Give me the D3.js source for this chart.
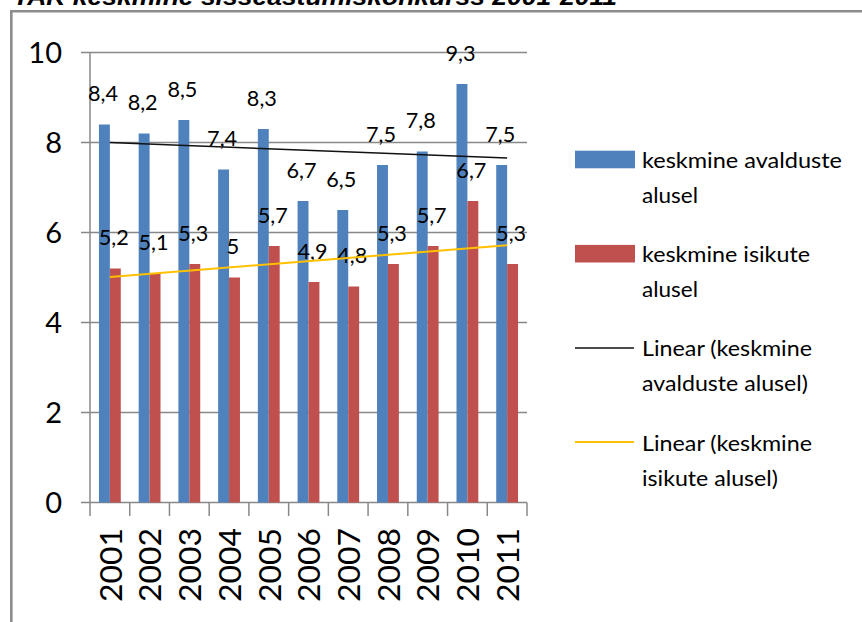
<!DOCTYPE html>
<html>
<head>
<meta charset="utf-8">
<script src="https://cdn.jsdelivr.net/npm/d3@7"></script>
<style>
  body { margin: 0; background: #fff; }
  svg { display: block; }
  text { font-family: Lato, "Noto Sans", sans-serif; }
</style>
</head>
<body>
<div id="chart"></div>
<script>
const years = ["2001", "2002", "2003", "2004", "2005", "2006", "2007", "2008", "2009", "2010", "2011"];
const avaldused = [8.4, 8.2, 8.5, 7.4, 8.3, 6.7, 6.5, 7.5, 7.8, 9.3, 7.5];
const isikud = [5.2, 5.1, 5.3, 5.0, 5.7, 4.9, 4.8, 5.3, 5.7, 6.7, 5.3];
const yTicks = [0, 2, 4, 6, 8, 10];
const seriesNames = ["keskmine avalduste alusel", "keskmine isikute alusel"];
const title = "TAK keskmine sisseastumiskonkurss 2001-2011";

const width = 862, height = 622;
const blue = "#4F81BD", red = "#C0504D", orange = "#FFC000";

const svg = d3.select("#chart").append("svg")
    .attr("width", width)
    .attr("height", height);

// title, cut off at the top like in the source picture
svg.append("text")
    .attr("x", 13)
    .attr("y", 4.5)
    .attr("textLength", 604)
    .attr("lengthAdjust", "spacingAndGlyphs")
    .style("font-family", "'Liberation Sans', Arial, sans-serif")
    .style("font-weight", "bold")
    .style("font-style", "italic")
    .style("font-size", "24px")
    .text(title);

// frame
svg.append("path")
    .attr("d", "M11.3,622 V11.3 H862")
    .attr("fill", "none")
    .attr("stroke", "#8c8c8c")
    .attr("stroke-width", 2.6);

const x = d3.scaleBand().domain(years).range([90, 527]);
const x1 = d3.scaleBand().domain(seriesNames).range([0, x.bandwidth()]).paddingOuter(0.82);
const y = d3.scaleLinear().domain([0, 10]).range([502.5, 52.5]);

// gridlines
svg.append("g")
    .selectAll("line")
    .data(yTicks)
    .enter().append("line")
    .attr("x1", 81)
    .attr("x2", 527)
    .attr("y1", d => y(d))
    .attr("y2", d => y(d))
    .attr("stroke", "#888")
    .attr("stroke-width", 1.5);

// vertical axis line
svg.append("line")
    .attr("x1", 90).attr("x2", 90)
    .attr("y1", y(10)).attr("y2", y(0))
    .attr("stroke", "#888")
    .attr("stroke-width", 1.5);

// category tick marks
const bounds = years.map(d => x(d)).concat([x.range()[1]]);
svg.append("g")
    .selectAll("line")
    .data(bounds)
    .enter().append("line")
    .attr("x1", d => d).attr("x2", d => d)
    .attr("y1", y(0)).attr("y2", y(0) + 13.5)
    .attr("stroke", "#888")
    .attr("stroke-width", 1.5);

// y tick labels
svg.append("g")
    .selectAll("text")
    .data(yTicks)
    .enter().append("text")
    .attr("x", 62)
    .attr("y", d => y(d))
    .attr("dy", "0.36em")
    .attr("text-anchor", "end")
    .style("font-size", "29px")
    .text(d => d);

// year labels, rotated
svg.append("g")
    .selectAll("text")
    .data(years)
    .enter().append("text")
    .attr("transform", d => `translate(${x(d) + x.bandwidth() / 2 + 1},528) rotate(-90)`)
    .attr("dy", "0.36em")
    .attr("text-anchor", "end")
    .attr("textLength", 74)
    .attr("lengthAdjust", "spacingAndGlyphs")
    .style("font-size", "30px")
    .text(d => d);

// bars
const rows = years.map((yr, i) => ({ year: yr, values: [avaldused[i], isikud[i]] }));
const colors = [blue, red];

const groups = svg.append("g")
    .selectAll("g")
    .data(rows)
    .enter().append("g")
    .attr("transform", d => `translate(${x(d.year)},0)`);

groups.selectAll("rect")
    .data(d => d.values.map((v, k) => ({ v, k })))
    .enter().append("rect")
    .attr("x", d => x1(seriesNames[d.k]))
    .attr("width", x1.bandwidth())
    .attr("y", d => y(d.v))
    .attr("height", d => y(0) - y(d.v))
    .attr("fill", d => colors[d.k]);

// linear trend lines (least squares, like Excel)
function trend(values) {
    const n = values.length;
    const xs = values.map((_, i) => i + 1);
    const mx = d3.mean(xs), my = d3.mean(values);
    const slope = d3.sum(xs, (xi, i) => (xi - mx) * (values[i] - my)) / d3.sum(xs, xi => (xi - mx) ** 2);
    return [1, n].map(xi => ({ i: xi - 1, v: my + slope * (xi - mx) }));
}

const line = d3.line()
    .x(d => x(years[d.i]) + x.bandwidth() / 2)
    .y(d => y(d.v));

svg.append("path")
    .datum(trend(avaldused))
    .attr("d", line)
    .attr("fill", "none")
    .attr("stroke", "#111")
    .attr("stroke-width", 1.5);

svg.append("path")
    .datum(trend(isikud))
    .attr("d", line)
    .attr("fill", "none")
    .attr("stroke", orange)
    .attr("stroke-width", 2);

// value labels
const fmt = v => String(v).replace(".", ",");
const valueLabels = groups.selectAll("text")
    .data(d => d.values.map((v, k) => ({ v, k })))
    .enter().append("text")
    .attr("x", d => x1(seriesNames[d.k]) + x1.bandwidth() / 2 - 1.5)
    .attr("y", d => y(d.v) - 23.5)
    .attr("text-anchor", "middle")
    .style("font-size", "22px")
    .text(d => fmt(d.v));

valueLabels.filter(d => fmt(d.v).length > 1)
    .attr("textLength", 30)
    .attr("lengthAdjust", "spacingAndGlyphs");

// legend
const legendItems = [
    { type: "rect", color: blue, lines: ["keskmine avalduste", "alusel"], widths: [200, 56] },
    { type: "rect", color: red, lines: ["keskmine isikute", "alusel"], widths: [168, 56] },
    { type: "line", color: "#111", lines: ["Linear (keskmine", "avalduste alusel)"], widths: [170, 166] },
    { type: "line", color: orange, lines: ["Linear (keskmine", "isikute alusel)"], widths: [170, 136] }
];

const legend = svg.append("g")
    .selectAll("g")
    .data(legendItems)
    .enter().append("g")
    .attr("transform", (d, i) => `translate(575,${159.5 + i * 94.2})`);

legend.filter(d => d.type === "rect").append("rect")
    .attr("x", 0).attr("y", -8.8)
    .attr("width", 60).attr("height", 17.6)
    .attr("fill", d => d.color);

legend.filter(d => d.type === "line").append("line")
    .attr("x1", 0).attr("x2", 59)
    .attr("y1", 0).attr("y2", 0)
    .attr("stroke", d => d.color)
    .attr("stroke-width", d => d.color === orange ? 2 : 1.5);

legend.each(function (d) {
    const g = d3.select(this);
    d.lines.forEach((txt, j) => {
        g.append("text")
            .attr("x", 67)
            .attr("y", 8.5 + j * 35)
            .attr("textLength", d.widths[j])
            .attr("lengthAdjust", "spacingAndGlyphs")
            .style("font-size", "22px")
            .text(txt);
    });
});
</script>
</body>
</html>
